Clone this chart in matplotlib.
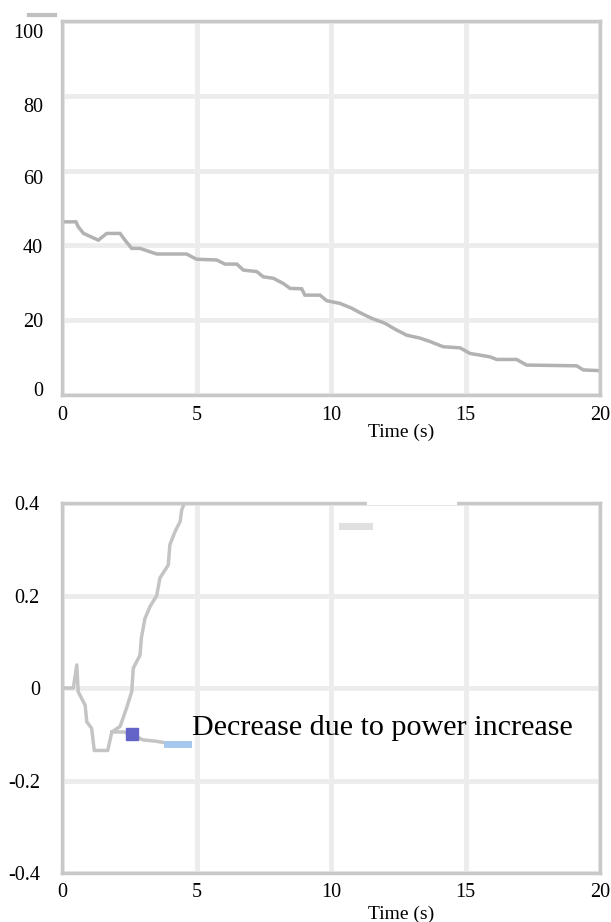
import numpy as np
import matplotlib
matplotlib.use('Agg')
import matplotlib.pyplot as plt
from matplotlib.lines import Line2D
from matplotlib.transforms import ScaledTranslation

plt.rcParams['font.family'] = ['Liberation Serif', 'DejaVu Serif']
plt.rcParams['axes.unicode_minus'] = False

# top panel: slowly decreasing trace
t_top = [0.07, 0.52, 0.6, 0.8, 1.35, 1.66, 2.16, 2.34, 2.59, 2.9, 3.27, 3.52, 4.63,
         5.0, 5.75, 6.06, 6.5, 6.74, 7.24, 7.48, 7.86, 8.23, 8.48, 8.91, 9.03, 9.59,
         9.84, 10.33, 10.77, 11.08, 11.51, 12.0, 12.38, 12.81, 13.31, 13.68, 14.17,
         14.8, 15.17, 15.91, 16.16, 16.9, 17.27, 19.13, 19.38, 20.0]
v_top = [46.3, 46.3, 45.0, 43.2, 41.4, 43.2, 43.2, 41.4, 39.2, 39.2, 38.3, 37.7, 37.7,
         36.3, 36.1, 35.0, 35.0, 33.4, 33.0, 31.6, 31.2, 29.8, 28.5, 28.4, 26.7, 26.7,
         25.2, 24.5, 23.2, 22.0, 20.5, 19.2, 17.6, 16.0, 15.2, 14.3, 12.9,
         12.6, 11.1, 10.2, 9.5, 9.5, 8.0, 7.8, 6.7, 6.5]

# bottom panel: main trace (leaves through the top) and the lower branch
t_main = [0.05, 0.42, 0.55, 0.6, 0.86, 0.92, 1.1, 1.2, 1.7, 1.85, 2.16, 2.4, 2.59,
          2.65, 2.9, 2.95, 3.08, 3.27, 3.52, 3.64, 3.95, 4.01, 4.2, 4.39, 4.45, 4.55]
v_main = [0.0, 0.0, 0.05, -0.008, -0.037, -0.073, -0.087, -0.135, -0.135, -0.095,
          -0.083, -0.043, -0.008, 0.043, 0.071, 0.108, 0.15, 0.176, 0.2, 0.238,
          0.266, 0.31, 0.338, 0.36, 0.385, 0.4]
t_branch = [1.85, 2.3, 2.6, 3.0, 3.5, 4.0, 4.7]
v_branch = [-0.095, -0.095, -0.10, -0.112, -0.115, -0.12, -0.12]
t_mark = [2.6]
v_mark = [-0.10]
t_blue = [3.9, 4.7]
v_blue = [-0.12, -0.12]

xticks = [0, 5, 10, 15, 20]
yticks_top = [0, 20, 40, 60, 80, 100]
ylabels_top = ['0', '20', '40', '60', '80', '100']
yticks_bot = [-0.4, -0.2, 0, 0.2, 0.4]
ylabels_bot = ['-0.4', '-0.2', '0', '0.2', '0.4']

fig = plt.figure(figsize=(6.11, 9.22), dpi=100)
ax1 = fig.add_axes([0.1015, 0.5716, 0.8805, 0.4056])
ax2 = fig.add_axes([0.1015, 0.0531, 0.8805, 0.4013])

grid_c = '#ececec'
frame_c = '#c8c8c8'

for ax in (ax1, ax2):
    ax.set_xlim(0, 20)
    ax.set_xticks(xticks)
    ax.grid(True, color=grid_c, linewidth=3.5)
    ax.set_axisbelow(True)
    for s in ax.spines.values():
        s.set_color(frame_c)
        s.set_linewidth(2.5)
    ax.tick_params(length=0, labelsize=14.5, colors='black')

ax1.plot(t_top, v_top, color='#b2b2b2', linewidth=2.5, solid_joinstyle='miter')
ax1.set_ylim(0, 100)
ax1.set_yticks(yticks_top)
ax1.tick_params(axis='y', labelleft=False)
ax1.tick_params(axis='x', pad=8)
# the y labels of the top panel sit a little below their grid lines
label_drop = [-3, 2, 3, 9, 12, 12]
for val, lab, dy in zip(yticks_top, ylabels_top, label_drop):
    tr = ax1.get_yaxis_transform() + ScaledTranslation(-0.19, -dy / 100, fig.dpi_scale_trans)
    ax1.text(0, val, lab, transform=tr, ha='right', va='center', fontsize=14.5)
ax1.set_xlabel('Time (s)', fontsize=14)
ax1.xaxis.set_label_coords(0.63, -0.078)

ax2.plot(t_main, v_main, color='#c4c4c4', linewidth=2.5)
ax2.plot(t_branch, v_branch, color='#c4c4c4', linewidth=2.5)
ax2.plot(t_blue, v_blue, color='#a6c8ec', linewidth=5)
ax2.plot(t_mark, v_mark, marker='s', markersize=9, color='#6464c8', linestyle='None')
ax2.plot([10.4, 11.4], [0.35, 0.35], color='#e0e0e0', linewidth=5)
ax2.plot([11.4, 14.6], [0.4, 0.4], color='white', linewidth=3, clip_on=False, zorder=5)
ax2.set_ylim(-0.4, 0.4)
ax2.set_yticks(yticks_bot)
ax2.set_yticklabels(ylabels_bot)
ax2.tick_params(axis='y', pad=16)
ax2.tick_params(axis='x', pad=7)
ax2.set_xlabel('Time (s)', fontsize=14)
ax2.xaxis.set_label_coords(0.63, -0.088)
ax2.text(4.85, -0.102, 'Decrease due to power increase', fontsize=21.7,
         ha='left', va='baseline')

# small grey dash above the top-left label
fig.add_artist(Line2D([29 / 611, 55 / 611], [1 - 15 / 922, 1 - 15 / 922],
                      color='#c0c0c0', linewidth=3))

fig.savefig('out.png', dpi=100)
